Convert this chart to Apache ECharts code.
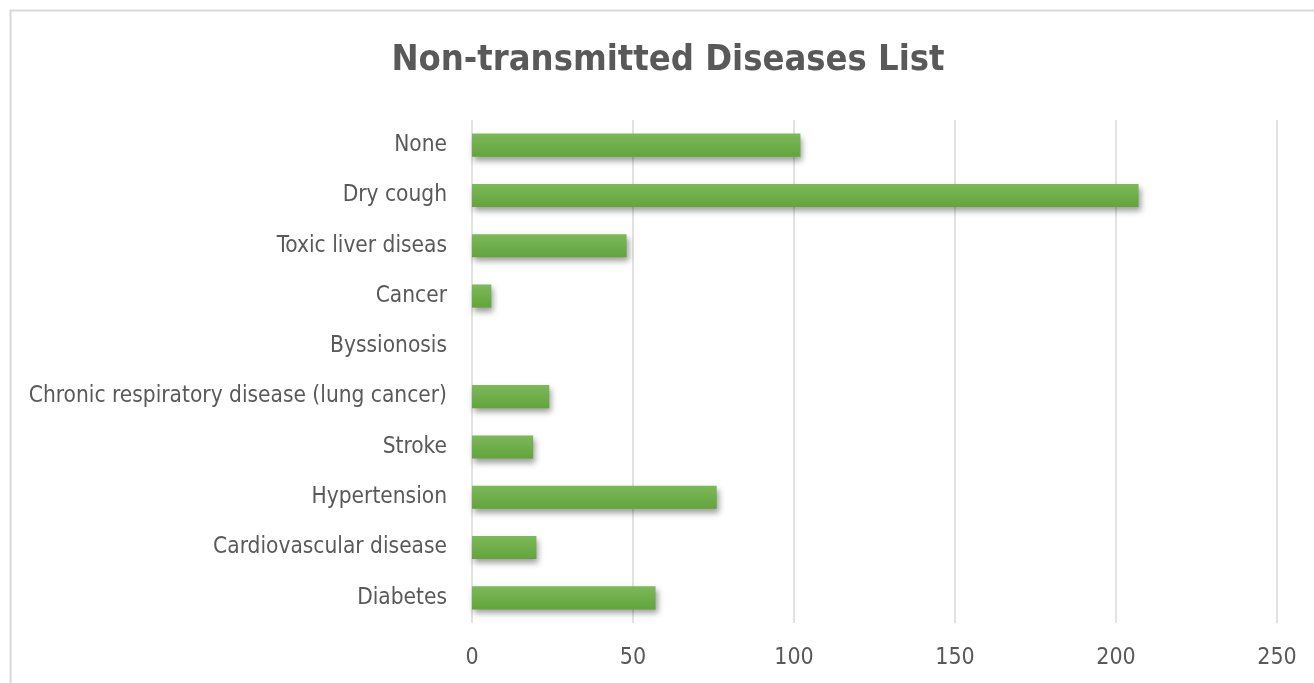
<!DOCTYPE html>
<html>
<head>
<meta charset="utf-8">
<script src="https://cdn.jsdelivr.net/npm/echarts@6/dist/echarts.min.js"></script>
<style>
  html, body { margin: 0; padding: 0; background: #fff; }
  #chart { width: 1314px; height: 683px; }
</style>
</head>
<body>
<div id="chart"></div>
<script>
// Disease categories, listed bottom to top as on the category axis
const categories = [
  'Diabetes',
  'Cardiovascular disease',
  'Hypertension',
  'Stroke',
  'Chronic respiratory disease (lung cancer)',
  'Byssionosis',
  'Cancer',
  'Toxic liver diseas',
  'Dry cough',
  'None'
];
// Number of respondents per category
const counts = [57, 20, 76, 19, 24, 0, 6, 48, 207, 102];
// Value axis ticks
const axisMin = 0;
const axisMax = 250;
const axisStep = 50;

const chartTitle = 'Non-transmitted Diseases List';
const textColor = '#595959';
const font = '"DejaVu Sans Condensed", "Open Sans", sans-serif';

const chart = echarts.init(document.getElementById('chart'), null, { renderer: 'canvas' });

chart.setOption({
  backgroundColor: '#ffffff',
  animation: false,
  graphic: [{
    // chart area frame
    type: 'rect',
    left: 8,
    top: 8,
    shape: { width: 1330, height: 700 },
    style: { fill: 'none', stroke: '#d9d9d9', lineWidth: 2 },
    silent: true
  }, {
    type: 'text',
    x: 668,
    y: 61,
    style: {
      text: chartTitle,
      fill: textColor,
      font: 'bold 36px ' + font,
      textAlign: 'center',
      textVerticalAlign: 'middle'
    },
    silent: true
  }],
  grid: {
    left: 472,
    right: 37,
    top: 120,
    bottom: 60,
    containLabel: false
  },
  xAxis: {
    type: 'value',
    min: axisMin,
    max: axisMax,
    interval: axisStep,
    axisLine: { show: false },
    axisTick: { show: false },
    splitLine: { show: true, lineStyle: { color: '#d9d9d9', width: 1.5 } },
    axisLabel: {
      color: textColor,
      fontFamily: font,
      fontSize: 23,
      margin: 24
    }
  },
  yAxis: {
    type: 'category',
    data: categories,
    axisLine: { show: false },
    axisTick: { show: false },
    axisLabel: {
      color: textColor,
      fontFamily: font,
      fontSize: 22.5,
      margin: 25,
      padding: [5, 0, 0, 0]
    }
  },
  series: [{
    type: 'bar',
    data: counts,
    barCategoryGap: '54%',
    itemStyle: {
      color: new echarts.graphic.LinearGradient(0, 0, 0, 1, [
        { offset: 0, color: '#7cb95a' },
        { offset: 1, color: '#62a43a' }
      ]),
      shadowColor: 'rgba(0,0,0,0.38)',
      shadowBlur: 6,
      shadowOffsetX: 2,
      shadowOffsetY: 4
    }
  }]
});
</script>
</body>
</html>
